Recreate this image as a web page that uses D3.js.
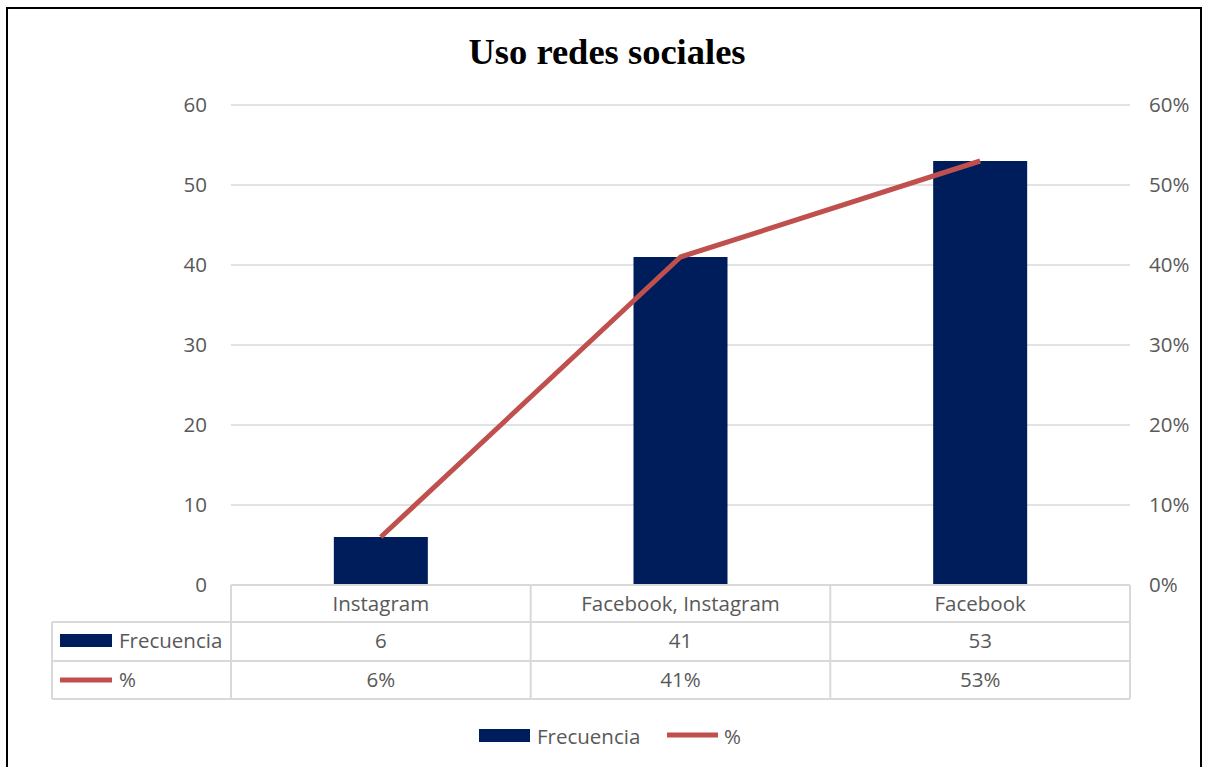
<!DOCTYPE html>
<html><head><meta charset="utf-8">
<script src="https://cdn.jsdelivr.net/npm/d3@7/dist/d3.min.js"></script>
<style>body{margin:0;background:#fff}svg{display:block}</style>
</head><body>
<script>
const categories = ["Instagram", "Facebook, Instagram", "Facebook"];
const frecuencia = [6, 41, 53];
const pct = [0.06, 0.41, 0.53];
const leftTicks = [0, 10, 20, 30, 40, 50, 60];
const rightTicks = [0, 0.1, 0.2, 0.3, 0.4, 0.5, 0.6];
const title = "Uso redes sociales";
const seriesNames = ["Frecuencia", "%"];

const W = 1206, H = 767;
const barColor = "#001d5b", lineColor = "#c0504d", textColor = "#595959", gridColor = "#d9d9d9";
const font = "'Open Sans', Lato, sans-serif";
const fs = 20.5;

const svg = d3.select("body").append("svg").attr("width", W).attr("height", H);
svg.append("rect").attr("width", W).attr("height", H).attr("fill", "#fff");
// outer border
svg.append("rect").attr("x", 7).attr("y", 8).attr("width", 1194).attr("height", 780)
  .attr("fill", "none").attr("stroke", "#000").attr("stroke-width", 2);

const x = d3.scaleBand().domain(categories).range([231, 1130]);
const yL = d3.scaleLinear().domain([0, 60]).range([585, 105]);
const yR = d3.scaleLinear().domain([0, 0.6]).range([585, 105]);

svg.append("text").attr("x", 607).attr("y", 64).attr("text-anchor", "middle")
  .attr("font-family", "'Liberation Serif', 'Times New Roman', serif").attr("font-weight", "bold")
  .attr("font-size", 36.5).attr("fill", "#000").text(title);

// gridlines
svg.append("g").selectAll("line").data(leftTicks.filter(d => d > 0)).join("line")
  .attr("x1", 231).attr("x2", 1130).attr("y1", d => yL(d)).attr("y2", d => yL(d))
  .attr("stroke", gridColor).attr("stroke-width", 1.5);

// left axis
const gl = svg.append("g").attr("transform", "translate(207,0)")
  .call(d3.axisLeft(yL).tickValues(leftTicks).tickSize(0).tickPadding(0));
gl.select(".domain").remove();
gl.selectAll("text").attr("font-family", font).attr("font-size", fs).attr("fill", textColor);

// right axis
const gr = svg.append("g").attr("transform", "translate(1149,0)")
  .call(d3.axisRight(yR).tickValues(rightTicks).tickFormat(d3.format(".0%")).tickSize(0).tickPadding(0));
gr.select(".domain").remove();
gr.selectAll("text").attr("font-family", font).attr("font-size", fs).attr("fill", textColor);

// bars
const bw = 94;
svg.append("g").selectAll("rect").data(categories).join("rect")
  .attr("x", d => x(d) + x.bandwidth() / 2 - bw / 2).attr("width", bw)
  .attr("y", (d, i) => yL(frecuencia[i])).attr("height", (d, i) => yL(0) - yL(frecuencia[i]))
  .attr("fill", barColor);

// line
const line = d3.line().x(d => x(d.c) + x.bandwidth() / 2).y(d => yR(d.v));
svg.append("path").datum(categories.map((c, i) => ({c, v: pct[i]})))
  .attr("d", line).attr("fill", "none").attr("stroke", lineColor).attr("stroke-width", 5)
  .attr("stroke-linejoin", "round");

// data table
const tb = svg.append("g").attr("stroke", gridColor).attr("stroke-width", 2).attr("fill", "none");
const rowY = [585, 622, 661, 699];
tb.append("line").attr("x1", 231).attr("x2", 1130).attr("y1", rowY[0]).attr("y2", rowY[0]);
tb.append("line").attr("x1", 52).attr("x2", 1130).attr("y1", rowY[1]).attr("y2", rowY[1]);
tb.append("line").attr("x1", 52).attr("x2", 1130).attr("y1", rowY[2]).attr("y2", rowY[2]);
tb.append("line").attr("x1", 52).attr("x2", 1130).attr("y1", rowY[3]).attr("y2", rowY[3]);
tb.append("line").attr("x1", 52).attr("x2", 52).attr("y1", rowY[1]).attr("y2", rowY[3]);
const cuts = categories.map(c => x(c)).concat([x.range()[1]]);
tb.selectAll("line.v").data(cuts).join("line").attr("class", "v")
  .attr("x1", d => d).attr("x2", d => d).attr("y1", rowY[0]).attr("y2", rowY[3]);

const tt = svg.append("g").attr("font-family", font).attr("font-size", fs).attr("fill", textColor)
  .attr("text-anchor", "middle");
tt.selectAll("text.c").data(categories).join("text").attr("class", "c")
  .attr("x", d => x(d) + x.bandwidth() / 2).attr("y", 611).text(d => d);
tt.selectAll("text.f").data(frecuencia).join("text").attr("class", "f")
  .attr("x", (d, i) => x(categories[i]) + x.bandwidth() / 2).attr("y", 648).text(d => d);
tt.selectAll("text.p").data(pct).join("text").attr("class", "p")
  .attr("x", (d, i) => x(categories[i]) + x.bandwidth() / 2).attr("y", 687).text(d => d3.format(".0%")(d));

// table legend keys
svg.append("rect").attr("x", 60).attr("y", 634).attr("width", 52).attr("height", 13).attr("fill", barColor);
svg.append("line").attr("x1", 60).attr("x2", 112).attr("y1", 680).attr("y2", 680)
  .attr("stroke", lineColor).attr("stroke-width", 5);
svg.append("text").attr("x", 119).attr("y", 648).attr("font-family", font).attr("font-size", fs)
  .attr("fill", textColor).text(seriesNames[0]);
svg.append("text").attr("x", 119).attr("y", 687).attr("font-family", font).attr("font-size", fs)
  .attr("fill", textColor).text(seriesNames[1]);

// bottom legend
svg.append("rect").attr("x", 479).attr("y", 729).attr("width", 51).attr("height", 13).attr("fill", barColor);
svg.append("text").attr("x", 537).attr("y", 744).attr("font-family", font).attr("font-size", fs)
  .attr("fill", textColor).text(seriesNames[0]);
svg.append("line").attr("x1", 667).attr("x2", 718).attr("y1", 735).attr("y2", 735)
  .attr("stroke", lineColor).attr("stroke-width", 5);
svg.append("text").attr("x", 724).attr("y", 744).attr("font-family", font).attr("font-size", fs)
  .attr("fill", textColor).text(seriesNames[1]);
</script>
</body></html>
